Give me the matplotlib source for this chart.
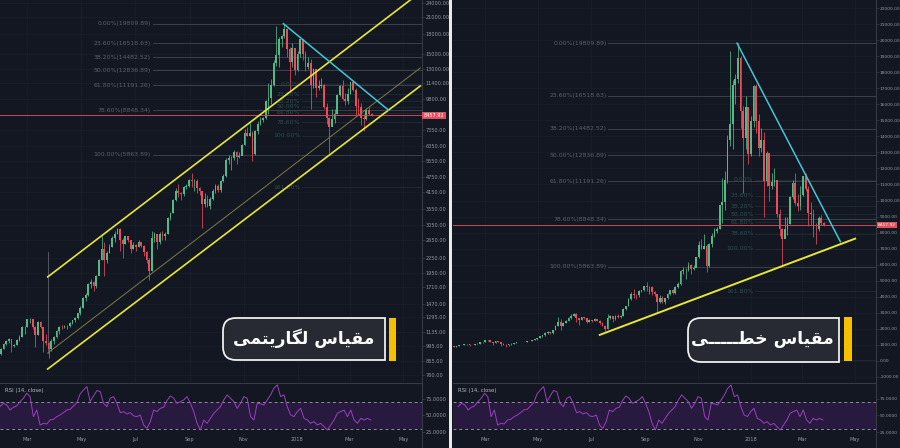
import numpy as np
import pandas as pd
import matplotlib
matplotlib.use('Agg')
import matplotlib.pyplot as plt
import matplotlib.dates as mdates
from matplotlib.patches import Rectangle, PathPatch
from matplotlib.path import Path
from matplotlib.transforms import IdentityTransform, blended_transform_factory

# ---- data (3-day candles, BTC/USD, from 2017-01-23) ----
first_open = 920
close = [895, 920, 970, 1015, 1045, 1060, 995, 1000, 1050, 1080, 1180, 1190, 1275, 1275, 1185, 1105,
         1240, 1180, 1040, 1025, 970, 1040, 1080, 1140, 1190, 1180, 1200, 1200, 1235, 1260, 1285, 1345,
         1420, 1550, 1600, 1760, 1800, 1730, 1900, 2200, 2450, 2200, 2350, 2500, 2700, 2800, 2950, 2650,
         2550, 2750, 2650, 2450, 2540, 2500, 2600, 2520, 2380, 2200, 2000, 2700, 2800, 2600, 2800, 2750,
         2800, 3250, 3400, 3850, 4200, 4100, 4080, 4350, 4400, 4650, 4600, 4600, 4300, 4180, 3700, 3900,
         3650, 3900, 4200, 4400, 4220, 4600, 4800, 5600, 5700, 5700, 6000, 5750, 5800, 6450, 7200, 7000,
         7150, 5900, 7300, 7800, 8100, 8250, 9700, 9900, 11250, 13750, 14800, 17200, 17600, 18900, 15600,
         13900, 15800, 12900, 14950, 17150, 14950, 13300, 13800, 11200, 12950, 10900, 11150, 11250, 9150,
         8250, 7600, 8200, 8550, 10200, 11100, 9850, 9650, 10350, 11500, 10700, 9250, 9150, 8250, 8200,
         8900, 8600, 8457.92]
high = [925, 925, 975, 1025, 1050, 1070, 1060, 1010, 1060, 1100, 1200, 1200, 1280, 1290, 1275, 1195,
        1250, 1255, 1180, 1115, 1030, 1060, 1090, 1150, 1200, 1210, 1210, 1210, 1240, 1270, 1300, 1350,
        1440, 1560, 1620, 1780, 1850, 1810, 1920, 2220, 2760, 2600, 2400, 2550, 2750, 2900, 2980, 2960,
        2700, 2760, 2770, 2650, 2600, 2550, 2650, 2600, 2530, 2400, 2250, 2900, 2850, 2800, 2850, 2900,
        2850, 3300, 3450, 3900, 4300, 4480, 4150, 4400, 4450, 4700, 4950, 4700, 4680, 4350, 4200, 4100,
        4050, 3950, 4250, 4450, 4470, 4650, 4900, 5700, 5850, 5800, 6150, 6050, 6000, 6500, 7450, 7600,
        7900, 7300, 7350, 8000, 8300, 8350, 9750, 11400, 11850, 14100, 19300, 17500, 17900, 19810, 19000,
        15900, 16500, 15600, 15300, 17200, 17250, 15400, 14500, 14300, 13100, 12950, 11700, 12000, 11300,
        9500, 8300, 9000, 8950, 10300, 11250, 11700, 10400, 10900, 11550, 11700, 10900, 9900, 9450, 8600,
        9050, 9100, 8650]
low = [885, 890, 910, 965, 1000, 1025, 940, 980, 1000, 1040, 1080, 1110, 1180, 1230, 1160, 980,
       1100, 1170, 940, 1000, 890, 950, 1015, 1070, 1110, 1160, 1170, 1160, 1190, 1220, 1240, 1280,
       1330, 1420, 1510, 1580, 1700, 1660, 1700, 1950, 2200, 1900, 2150, 2350, 2480, 2600, 2800, 2400,
       2250, 2550, 2600, 2350, 2450, 2400, 2500, 2480, 2300, 2150, 1840, 2000, 2620, 2450, 2550, 2650,
       2650, 2800, 3200, 3400, 3800, 3950, 3850, 4000, 4280, 4350, 4350, 4200, 4100, 4050, 2980, 3600,
       3600, 3550, 3850, 4100, 4150, 4150, 4550, 4750, 5400, 5100, 5600, 5400, 5700, 5950, 6400, 6950,
       6950, 5550, 5850, 7100, 7750, 7950, 8200, 8600, 9400, 11100, 13400, 13200, 16000, 17300, 14500,
       10500, 13200, 12300, 12800, 14600, 14200, 12800, 13000, 9000, 10900, 10000, 10700, 10900, 9000,
       7800, 5950, 7700, 7850, 8550, 10100, 9750, 9350, 9400, 10300, 10600, 8400, 8500, 7700, 7300,
       8100, 8500, 8400]
candle_dates = pd.date_range('2017-01-23', periods=len(close), freq='3D')
last_price = 8457.92

rsi = [63.1, 68.0, 65.6, 58.1, 62.1, 64.1, 70.5, 75.4, 82.8, 77.9, 48.3, 58.1, 35.9, 38.4, 37.4, 43.3,
       44.3, 48.3, 50.7, 54.2, 58.1, 59.1, 64.1, 69.0, 81.9, 87.8, 92.7, 70.5, 78.9, 86.8, 85.3, 68.0,
       63.1, 75.4, 77.9, 68.0, 54.2, 55.7, 52.2, 54.2, 49.3, 48.3, 50.7, 35.9, 31.0, 40.9, 58.1, 55.7,
       60.6, 62.1, 72.0, 78.9, 75.4, 68.0, 70.5, 73.0, 77.9, 68.0, 55.7, 38.4, 28.5, 43.3, 38.4, 45.8,
       53.2, 58.1, 63.1, 73.0, 80.4, 75.4, 70.5, 60.6, 68.0, 77.9, 75.4, 48.3, 43.3, 68.0, 67.0, 65.6,
       73.0, 80.4, 90.2, 95.2, 77.9, 80.4, 63.1, 50.7, 48.3, 55.7, 60.6, 45.8, 43.3, 38.4, 40.9, 35.9,
       38.4, 33.5, 28.5, 35.9, 43.3, 53.2, 55.7, 58.1, 48.3, 58.1, 43.3, 38.4, 45.8, 43.3, 45.8, 43.3]
rsi_dates = pd.date_range('2017-01-29', '2018-03-25', periods=len(rsi))

fib_pcts = [0.0, 23.6, 38.2, 50.0, 61.8, 78.6, 100.0]
fib_values = [19809.89, 16518.63, 14482.52, 12836.89, 11191.26, 8848.34, 5863.89]
fib2_pcts = [0.0, 23.6, 38.2, 50.0, 61.8, 78.6, 100.0, 161.8, 261.8]
fib2_values = [11300, 10285, 9657, 9150, 8643, 7920, 7000, 4343, 43]

log_ticks = [24000, 21000, 18000, 15000, 13000, 11400, 9800, 7350, 6350, 5550, 4750, 4150, 3550,
             3050, 2650, 2250, 1950, 1710, 1470, 1295, 1135, 995, 865, 760]
lin_ticks = list(range(22000, -1001, -1000))
month_ticks = ['2017-03-01', '2017-05-01', '2017-07-01', '2017-09-01', '2017-11-01',
               '2018-01-01', '2018-03-01', '2018-05-01']
month_labels = ['Mar', 'May', 'Jul', 'Sep', 'Nov', '2018', 'Mar', 'May']

# drawings
channel_dates = ['2017-03-24', '2018-05-20']
channel_upper = [1886, 26480]
channel_lower = [802, 11105]
channel_mid = [930, 13125]
cyan_left_dates = ['2017-12-16', '2018-04-14']
cyan_left = [19810, 8880]
cyan_right_dates = ['2017-12-16', '2018-04-14']
cyan_right = [19810, 7437]
support_dates = ['2017-07-11', '2018-05-01']
support_right = [1625, 7625]

BG = '#131722'
UP = '#53b987'
DN = '#eb4d5c'
TXT = '#9598a1'
AXC = '#363a45'

W, H = 900, 448
fig = plt.figure(figsize=(W / 100, H / 100), dpi=100, facecolor=BG)


def px(x0, y0, w, h):
    return [x0 / W, (H - y0 - h) / H, w / W, h / H]


axL = fig.add_axes(px(0, 0, 422, 382))
rsiL = fig.add_axes(px(0, 383, 422, 51))
axR = fig.add_axes(px(453, 0, 423, 382))
rsiR = fig.add_axes(px(453, 383, 423, 51))

d = lambda s: mdates.date2num(pd.to_datetime(s))
xlimL = (d('2017-01-29'), d('2018-05-22'))
xlimR = (d('2017-01-23'), d('2018-05-25'))

c = np.array(close, float)
o = np.r_[first_open, c[:-1]]
hi = np.array(high, float)
lo = np.array(low, float)
xc = mdates.date2num(candle_dates) + 1.0
cols = np.where(c >= o, UP, DN)


def style(ax, xlim, fs):
    ax.set_facecolor(BG)
    ax.set_xlim(*xlim)
    for s in ['top', 'left', 'bottom']:
        ax.spines[s].set_visible(False)
    ax.spines['right'].set_color(AXC)
    ax.spines['right'].set_linewidth(0.8)
    ax.yaxis.tick_right()
    ax.tick_params(axis='y', colors=AXC, labelcolor=TXT, labelsize=fs, length=1.8, width=0.5, pad=1.0)
    ax.tick_params(axis='x', length=0)
    ax.grid(True, color='#1b1f2b', lw=0.5)
    ax.set_axisbelow(True)


def main_panel(ax, xlim, log, fs):
    style(ax, xlim, fs)
    ax.vlines(xc, lo, hi, colors=cols, lw=0.55, zorder=3)
    ax.bar(xc, np.abs(c - o), bottom=np.minimum(o, c), width=2.0, color=cols, lw=0, zorder=3)
    ax.set_xticks([d(t) for t in month_ticks])
    ax.set_xticklabels([])
    if log:
        ax.set_yscale('log')
        ax.set_ylim(711, 24680)
        ax.set_yticks(log_ticks)
        ax.set_yticklabels([f'{v:.2f}' for v in log_ticks])
        ax.yaxis.set_minor_locator(matplotlib.ticker.NullLocator())
    else:
        ax.set_ylim(-1312, 22500)
        ax.set_yticks(lin_ticks)
        ax.set_yticklabels([f'{v:.2f}' for v in lin_ticks])
    ymin, ymax = ax.get_ylim()
    # fib retracement
    x0 = d('2017-07-21')
    for p, v in zip(fib_pcts, fib_values):
        ax.plot([x0, xlim[1]], [v, v], color='#3d404a', lw=0.7, zorder=2)
        ax.text(x0 - 2, v, f'{p:.2f}%({v:.2f})', ha='right', va='center', fontsize=4.4,
                color='#5d606b', clip_on=True)
    x2 = d('2018-01-06')
    for p, v in zip(fib2_pcts, fib2_values):
        if not ymin < v < ymax:
            continue
        ax.plot([x2, xlim[1]], [v, v], color='#1d2c30', lw=0.6, zorder=2)
        ax.text(x2 - 2, v, f'{p:.2f}%', ha='right', va='center', fontsize=4.4,
                color='#2c4f4c', clip_on=True)
    # last price
    ax.axhline(last_price, color='#c8485a', lw=0.7, zorder=4)
    tr = blended_transform_factory(ax.transAxes, ax.transData)
    ax.text(1.004, last_price, f'{last_price:.2f}', transform=tr, ha='left', va='center',
            fontsize=fs, color='white', zorder=6,
            bbox=dict(boxstyle='square,pad=0.25', fc='#e0505f', ec='none'))


def rsi_panel(ax, xlim, fs):
    style(ax, xlim, fs)
    ax.spines['top'].set_visible(True)
    ax.spines['top'].set_color(AXC)
    ax.set_ylim(22.6, 98)
    ax.axhspan(30, 70, color='#271a3e', lw=0, zorder=1)
    ax.axhline(70, color='#8d909a', lw=0.7, ls=(0, (3, 3)), zorder=2)
    ax.axhline(30, color='#8d909a', lw=0.7, ls=(0, (3, 3)), zorder=2)
    ax.plot(rsi_dates, rsi, color='#9b3fc0', lw=0.7, zorder=3)
    ax.set_yticks([75, 50, 25])
    ax.set_yticklabels(['75.0000', '50.0000', '25.0000'])
    ax.set_xticks([d(t) for t in month_ticks])
    ax.set_xticklabels(month_labels)
    ax.tick_params(axis='x', colors=TXT, labelsize=3.6, pad=2.0)
    ax.grid(False)
    ax.text(0.012, 0.82, 'RSI (14, close)', transform=ax.transAxes, fontsize=3.9, color='#b2b5be')


main_panel(axL, xlimL, True, 3.6)
main_panel(axR, xlimR, False, 3.2)
rsi_panel(rsiL, xlimL, 3.6)
rsi_panel(rsiR, xlimR, 3.2)

# drawings, left (log)
axL.plot(pd.to_datetime(channel_dates), channel_upper, color='#e6e63a', lw=1.2, zorder=5)
axL.plot(pd.to_datetime(channel_dates), channel_lower, color='#e6e63a', lw=1.2, zorder=5)
axL.plot(pd.to_datetime(channel_dates), channel_mid, color='#7d7a45', lw=0.7, zorder=5)
axL.plot(pd.to_datetime(['2017-03-24', '2017-03-24']), [930, 2380], color='#5d606b', lw=0.6, zorder=2)
axL.plot(pd.to_datetime(cyan_left_dates), cyan_left, color='#41c6d6', lw=1.1, zorder=5)
# drawings, right (linear)
axR.plot(pd.to_datetime(support_dates), support_right, color='#e6e63a', lw=1.4, zorder=5)
axR.plot(pd.to_datetime(cyan_right_dates), cyan_right, color='#41c6d6', lw=1.1, zorder=5)

# axis line continuing into bottom strip
for xx in (422, 876):
    fig.add_artist(Rectangle((xx, 0), 0.8, 14, transform=IdentityTransform(), color=AXC, lw=0))
# white divider between the two screenshots
fig.add_artist(Rectangle((449, 0), 3, H, transform=IdentityTransform(), color='#e9e9ea', lw=0))


def tag(x0, y0, w, h, r):
    x1, y1 = x0 + w, y0 + h
    verts = [(x0 + r, y0), (x1, y0), (x1, y1), (x0 + r, y1), (x0, y1), (x0, y1 - r),
             (x0, y0 + r), (x0, y0), (x0 + r, y0), (x0 + r, y0)]
    codes = [Path.MOVETO, Path.LINETO, Path.LINETO, Path.LINETO, Path.CURVE3, Path.CURVE3,
             Path.LINETO, Path.CURVE3, Path.CURVE3, Path.CLOSEPOLY]
    fig.add_artist(PathPatch(Path(verts, codes), transform=IdentityTransform(),
                             fc='#272a33', ec='#eeeeee', lw=1.3, zorder=10))


# Persian labels (presentation forms in visual order)
label_log = '\uFEF0\uFEE4\uFE98\uFEF3\uFEAD\uFE8E\uFB95\uFEDF \uFEB1\uFE8E\uFEF4\uFED8\uFEE3'   # مقیاس لگاریتمی
label_lin = '\uFEF0' + '\u0640' * 5 + '\uFEC4\uFEA7 \uFEB1\uFE8E\uFEF4\uFED8\uFEE3'            # مقیاس خطـــی

tag(223, 88, 162, 42, 13)
fig.add_artist(Rectangle((389, 87), 7, 43, transform=IdentityTransform(), color='#f6c000', lw=0, zorder=10))
fig.text(304 / W, 110 / H, label_log, ha='center', va='center', fontsize=12.3, fontweight='bold',
         color='white', family=['DejaVu Sans'], zorder=11)

tag(688, 86, 151, 44, 13)
fig.add_artist(Rectangle((844, 87), 8, 44, transform=IdentityTransform(), color='#f6c000', lw=0, zorder=10))
fig.text(762 / W, 109 / H, label_lin, ha='center', va='center', fontsize=12.3, fontweight='bold',
         color='white', family=['DejaVu Sans'], zorder=11)

fig.savefig('out.png', dpi=100, facecolor=BG)
